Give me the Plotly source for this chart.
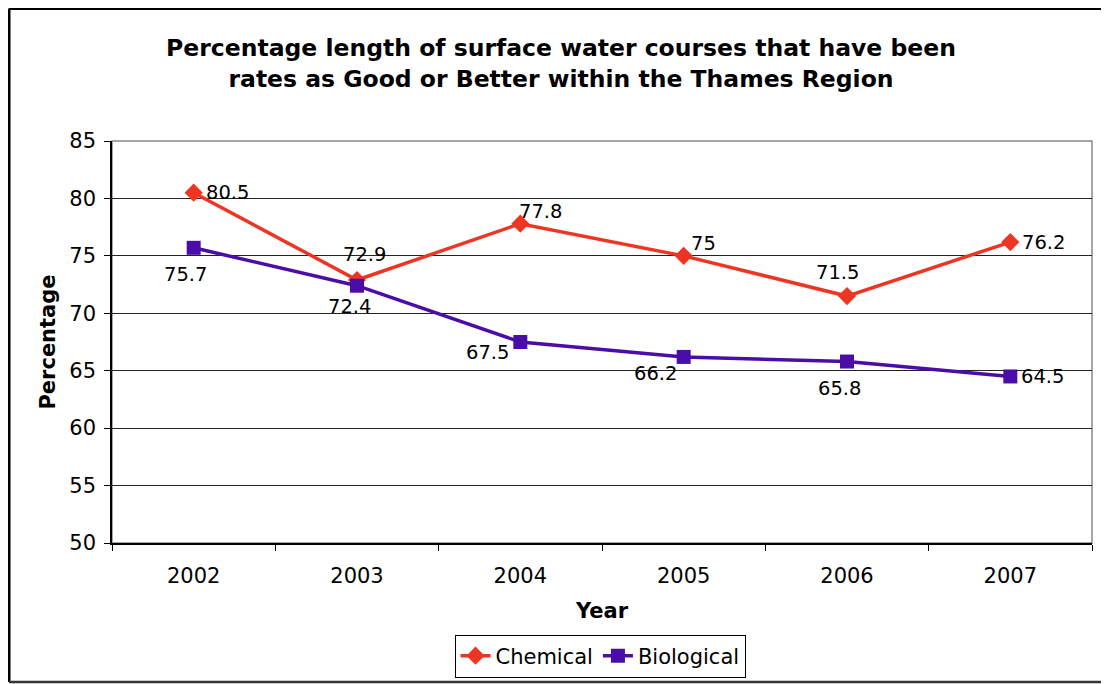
import plotly.graph_objects as go

years = ["2002", "2003", "2004", "2005", "2006", "2007"]
chemical = [80.5, 72.9, 77.8, 75, 71.5, 76.2]
biological = [75.7, 72.4, 67.5, 66.2, 65.8, 64.5]

# label placement (anchor, xshift, yshift) per point
chem_lbl = [("left", 10, 0), ("center", 7, 25), ("left", -3, 12),
            ("left", 5, 12), ("center", -10, 24), ("left", 10, 0)]
bio_lbl = [("center", -8, -27), ("center", -8, -21), ("right", -9, -10),
           ("right", -5, -17), ("center", -8, -27), ("left", 9, 0)]

RED = "#EE3524"
PURPLE = "#4A0DA8"
FONT = "DejaVu Sans"

fig = go.Figure()
fig.add_trace(go.Scatter(
    x=years, y=chemical, name="Chemical", mode="lines+markers",
    line=dict(color=RED, width=3.5),
    marker=dict(symbol="diamond", size=14, color=RED),
))
fig.add_trace(go.Scatter(
    x=years, y=biological, name="Biological", mode="lines+markers",
    line=dict(color=PURPLE, width=3.5),
    marker=dict(symbol="square", size=14, color=PURPLE),
))

annotations = []
for ys, lbls in ((chemical, chem_lbl), (biological, bio_lbl)):
    for i, (yv, (anc, dx, dy)) in enumerate(zip(ys, lbls)):
        annotations.append(dict(
            x=i, y=yv, xref="x", yref="y", text=f"{yv:g}", showarrow=False,
            xanchor=anc, yanchor="middle", xshift=dx, yshift=dy,
            font=dict(family=FONT, size=19.5, color="black"),
        ))

# page body margin offset (8px) is compensated here
OFF = 8
W, H = 1109 - OFF, 684 - OFF
L, T = 112 - OFF, 141 - OFF
R = W - (1092 - OFF)
B = H - (543 - OFF)
pw, ph = W - L - R, H - T - B

def px(x):
    return (x - OFF - L) / pw

def py(y):
    return (H - B - (y - OFF)) / ph

shapes = [
    dict(type="rect", xref="paper", yref="paper", x0=0, x1=1, y0=0, y1=1,
         line=dict(color="#888888", width=1.5), layer="below"),
    dict(type="line", xref="paper", yref="paper", x0=px(9), x1=px(1120), y0=py(8.5), y1=py(8.5),
         line=dict(color="black", width=3)),
    dict(type="line", xref="paper", yref="paper", x0=px(9), x1=px(9), y0=py(8.5), y1=py(682),
         line=dict(color="black", width=3)),
    dict(type="line", xref="paper", yref="paper", x0=px(9), x1=px(1120), y0=py(682), y1=py(682),
         line=dict(color="#333333", width=2.5)),
]

fig.update_layout(
    width=W, height=H,
    margin=dict(l=L, r=R, t=T, b=B, autoexpand=False),
    paper_bgcolor="white", plot_bgcolor="white",
    font=dict(family=FONT, size=21, color="black"),
    title=dict(
        text="<b>Percentage length of surface water courses that have been<br>rates as Good or Better within the Thames Region</b>",
        xref="container", x=(561 - OFF) / W, xanchor="center",
        yref="container", y=1 - (56 - OFF) / H, yanchor="middle",
        font=dict(family=FONT, size=23.5, color="black"),
    ),
    xaxis=dict(
        type="category", tickson="boundaries", ticks="outside", ticklen=6,
        tickcolor="black", showline=True, linecolor="black", linewidth=1.5,
        showgrid=False, tickfont=dict(size=21), ticklabelstandoff=13,
        title=dict(text="<b>Year</b>", font=dict(size=21), standoff=16),
        range=[-0.5, 5.5], automargin=False,
    ),
    yaxis=dict(
        range=[50, 85], dtick=5, ticks="outside", ticklen=6, tickcolor="black",
        showline=True, linecolor="black", linewidth=1.5,
        showgrid=True, gridcolor="#222222", gridwidth=1,
        zeroline=False, tickfont=dict(size=21), ticklabelstandoff=4,
        title=dict(text="<b>Percentage</b>", font=dict(size=21), standoff=8),
        automargin=False,
    ),
    legend=dict(
        orientation="h", x=px(600), xanchor="center", y=py(656), yanchor="middle",
        bordercolor="black", borderwidth=1, bgcolor="white",
        font=dict(size=21), itemwidth=30, tracegroupgap=0,
    ),
    annotations=annotations,
    shapes=shapes,
    showlegend=True,
)

fig.write_html("out.html")
